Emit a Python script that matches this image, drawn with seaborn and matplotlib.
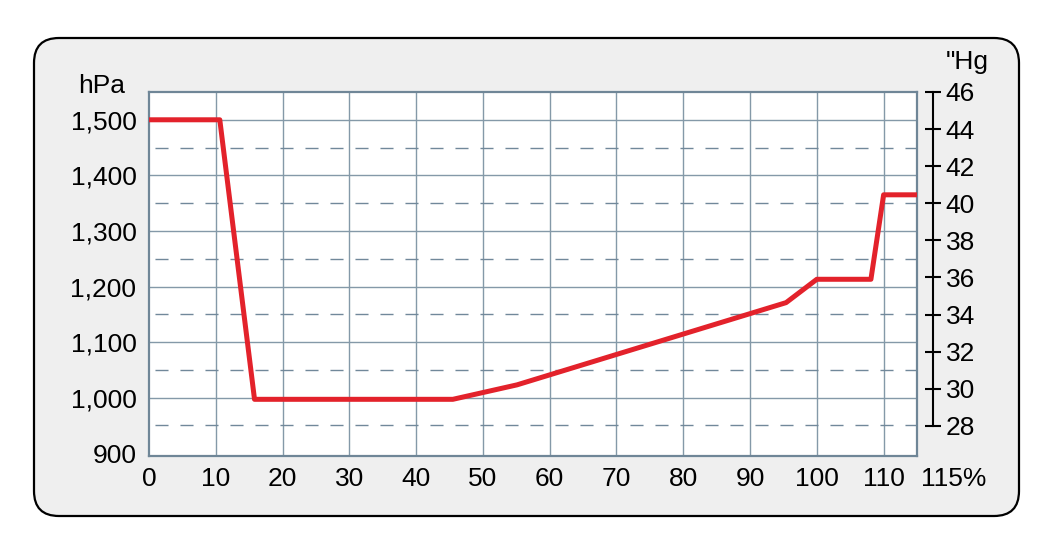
import numpy as np
import pandas as pd
import matplotlib
matplotlib.use("Agg")
import matplotlib.pyplot as plt
import matplotlib.transforms as mtransforms
import seaborn as sns
from matplotlib.patches import FancyBboxPatch

# dados da curva (percentual x pressao em hPa)
percent = [0, 10.6, 15.8, 45.5, 55.1, 95.4, 100, 108.1, 110, 115]
pressao_hpa = [1500, 1500, 997, 997, 1023, 1171, 1213, 1213, 1365, 1365]

x_ticks = [0, 10, 20, 30, 40, 50, 60, 70, 80, 90, 100, 110, 115]
x_labels = ["0", "10", "20", "30", "40", "50", "60", "70", "80", "90", "100", "110", "115%"]
hpa_ticks = [900, 1000, 1100, 1200, 1300, 1400, 1500]
hpa_labels = ["900", "1,000", "1,100", "1,200", "1,300", "1,400", "1,500"]
hpa_dashed = [950, 1050, 1150, 1250, 1350, 1450]
inhg_ticks = [28, 30, 32, 34, 36, 38, 40, 42, 44, 46]

df = pd.DataFrame({"Percent": percent, "hPa": pressao_hpa})

sns.set_style("white")
plt.rcParams["font.family"] = ["Liberation Sans", "DejaVu Sans"]
plt.rcParams["text.color"] = "black"

grid_cor = "#8499a8"
dash_cor = "#71889a"
spine_cor = "#6f8697"
vermelho = "#e3222b"
fs = 19

fig = plt.figure(figsize=(10.54, 5.43), dpi=100)
fig.patch.set_facecolor("white")

# caixa arredondada de fundo
caixa = FancyBboxPatch((0.34, 0.27), 9.85, 4.78,
                       boxstyle="round,pad=0,rounding_size=0.25",
                       transform=fig.dpi_scale_trans, facecolor="#efefef",
                       edgecolor="black", linewidth=1.6, zorder=-10)
fig.add_artist(caixa)

ax = fig.add_axes([149 / 1054, 1 - 456 / 543, (917 - 149) / 1054, (456 - 92) / 543])
ax.set_facecolor("white")

# grade
for xv in range(10, 115, 10):
    ax.axvline(xv, color=grid_cor, lw=1.0, zorder=1)
for yv in hpa_ticks[1:]:
    ax.axhline(yv, color=grid_cor, lw=1.0, zorder=1)
for yv in hpa_dashed:
    ax.axhline(yv, color=dash_cor, lw=1.0, ls=(13.7, (9.4, 8.6)), zorder=1)

sns.lineplot(data=df, x="Percent", y="hPa", ax=ax, color=vermelho, lw=3.6,
             sort=False, zorder=3)

ax.set_xlim(0, 115)
ax.set_ylim(895, 1550)
ax.set_xticks(x_ticks)
ax.set_xticklabels(x_labels)
ax.set_yticks(hpa_ticks)
ax.set_yticklabels(hpa_labels)
ax.tick_params(axis="both", length=0, labelsize=fs, colors="black")
ax.tick_params(axis="x", pad=8)
ax.tick_params(axis="y", pad=9)
ax.set_xlabel("")
ax.set_ylabel("")
for s in ax.spines.values():
    s.set_color(spine_cor)
    s.set_linewidth(1.6)

# rotulo 115% deslocado para a direita
ultimo = ax.get_xticklabels()[-1]
ultimo.set_ha("left")
ultimo.set_transform(ultimo.get_transform() +
                     mtransforms.ScaledTranslation(4 / 100, 0, fig.dpi_scale_trans))

# eixo da direita em inHg
ax2 = ax.twinx()
ax2.set_ylim(26.37, 46.0)
ax2.set_yticks(inhg_ticks)
for s in ["top", "left", "bottom"]:
    ax2.spines[s].set_visible(False)
ax2.spines["right"].set_position(("axes", 1.021))
ax2.spines["right"].set_bounds(28, 46)
ax2.spines["right"].set_color("black")
ax2.spines["right"].set_linewidth(1.5)
ax2.tick_params(axis="y", direction="inout", length=12, width=1.5,
                labelsize=fs, pad=3, colors="black")

fig.text(102 / 1054, 1 - 86 / 543, "hPa", fontsize=fs, ha="center", va="center")
fig.text(967 / 1054, 1 - 62 / 543, '"Hg', fontsize=fs, ha="center", va="center")

fig.savefig("out.png", dpi=100)
